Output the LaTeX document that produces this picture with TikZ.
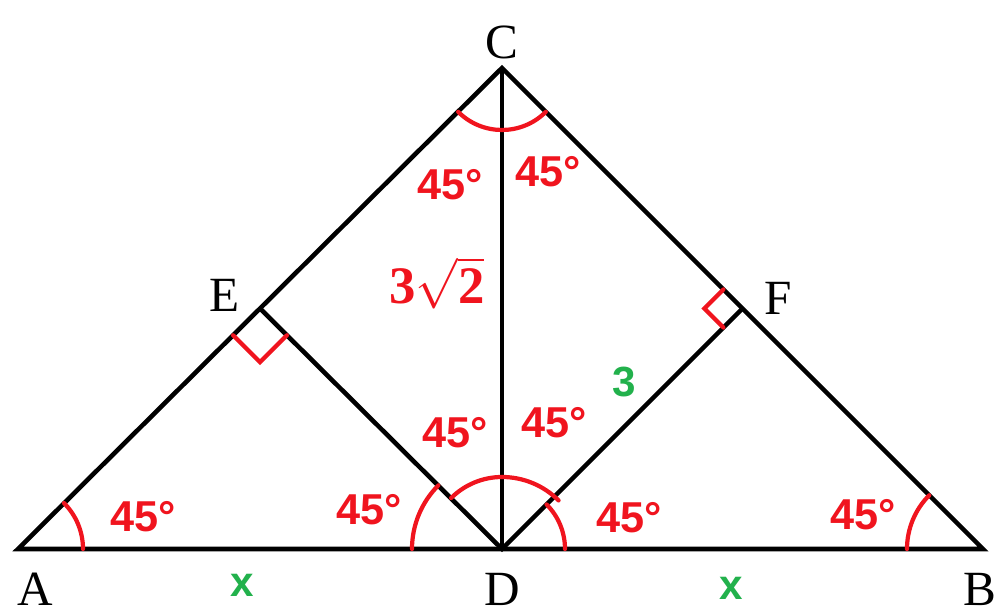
\documentclass[tikz,border=0pt]{standalone}
\usepackage{fontspec}
\setmainfont{Liberation Serif}
\newfontfamily\angfont{Liberation Sans}
\usetikzlibrary{calc}
\definecolor{markred}{RGB}{240, 20, 30}
\definecolor{sidegreen}{RGB}{34, 177, 76}

\begin{document}
\begin{tikzpicture}[
        pt/.style={font=\fontsize{14}{16}\selectfont, inner sep=0pt},
        ang/.style={font=\angfont\bfseries\fontsize{12.3}{14}\selectfont, text=markred, inner sep=1pt},
        len/.style={font=\angfont\bfseries\fontsize{12}{14}\selectfont, text=sidegreen, inner sep=1pt},
        seg/.style={line width=1.3pt, black},
        mk/.style={line width=1.2pt, markred, line cap=round}]
    \useasboundingbox (0,0) rectangle (9.98,6.15);
    % vertices
    \coordinate (A) at (0.18,0.66);
    \coordinate (B) at (9.83,0.66);
    \coordinate (C) at (5.02,5.47);
    \coordinate (D) at (5.02,0.66);
    \coordinate (E) at ($(A)!0.5!(C)$);
    \coordinate (F) at ($(B)!0.5!(C)$);
    % point labels
    \node[pt] (lA) at (0.35,0.26) {A};
    \node[pt] (lB) at (9.80,0.26) {B};
    \node[pt] (lC) at (5.02,5.73) {C};
    \node[pt] (lD) at (5.02,0.26) {D};
    \node[pt] (lE) at (2.25,3.20) {E};
    \node[pt] (lF) at (7.78,3.17) {F};
    % triangle and segments
    \draw[seg] (A) -- (B) -- (C) -- cycle;
    \draw[seg] (C) -- (D);
    \draw[seg] (E) -- (D) -- (F);
    % angle marks
    \draw[mk] ([shift={(0:0.65)}]A) arc[start angle=0, end angle=45, radius=0.65];
    \draw[mk] ([shift={(135:0.76)}]B) arc[start angle=135, end angle=180, radius=0.76];
    \draw[mk] ([shift={(135:0.9)}]D) arc[start angle=135, end angle=180, radius=0.9];
    \draw[mk] ([shift={(0:0.63)}]D) arc[start angle=0, end angle=45, radius=0.63];
    \draw[mk] ([shift={(135:0.72)}]D) arc[start angle=135, end angle=90, radius=0.72];
    \draw[mk] ([shift={(90:0.72)}]D) arc[start angle=90, end angle=45, radius=0.8];
    \draw[mk] ([shift={(225:0.62)}]C) arc[start angle=225, end angle=315, radius=0.62];
    % right angles
    \draw[mk] ($(E)!0.38cm!(A)$) -- ($($(E)!0.38cm!(A)$)+($(E)!0.38cm!(D)$)-(E)$) -- ($(E)!0.38cm!(D)$);
    \draw[mk] ($(F)!0.27cm!(C)$) -- ($($(F)!0.27cm!(C)$)+($(F)!0.27cm!(D)$)-(F)$) -- ($(F)!0.27cm!(D)$);
    % angle values
    \foreach \x/\y [count=\i] in {4.50/4.30, 5.48/4.43, 4.55/1.82, 5.54/1.92, 1.43/0.98, 3.69/1.05, 6.29/0.97, 8.63/1.00}
        \node[ang] (a\i) at (\x,\y) {45°};
    % lengths
    \node[font=\bfseries\fontsize{15}{17}\selectfont, text=markred] (cd) at (4.37,3.32) {$\mathbf{3\sqrt{2}}$};
    \node[len] (df) at (6.24,2.33) {3};
    \node[len] (ad) at (2.42,0.30) {x};
    \node[len] (db) at (7.31,0.27) {x};
\end{tikzpicture}
\end{document}
